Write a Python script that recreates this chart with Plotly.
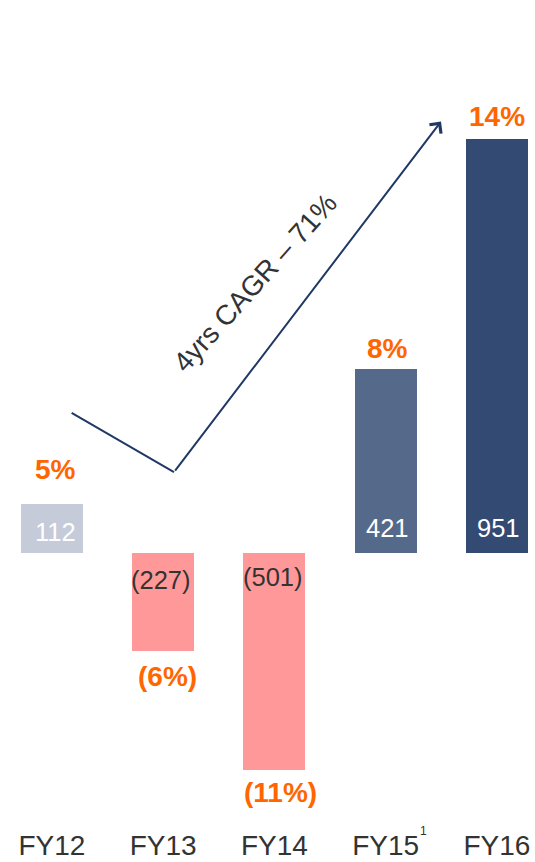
import plotly.graph_objects as go

categories = ["FY12", "FY13", "FY14", "FY15", "FY16"]
tick_labels = ["FY12", "FY13", "FY14", "FY15", "FY16"]
footnote_marks = ["", "", "", "1", ""]
values = [112, -227, -501, 421, 951]
value_labels = ["112", "(227)", "(501)", "421", "951"]
pct_labels = ["5%", "(6%)", "(11%)", "8%", "14%"]
bar_colors = ["#C5CBD8", "#FF9999", "#FF9999", "#556A8A", "#334A72"]
value_label_colors = ["#FFFFFF", "#333333", "#333333", "#FFFFFF", "#FFFFFF"]

# style offsets (px) for labels
pct_shift = [34, -25, -22, 21, 23]
pct_xshift = [4, 4, 6, 2, 0]
val_shift = [21, -27, -24, 25, 25]
val_xshift = [4, -2, -1, 2, 2]

FONT = "Liberation Sans, Arial, sans-serif"
ORANGE = "#FF6600"
NAVY = "#1F3864"

x_idx = list(range(len(categories)))

fig = go.Figure()
fig.add_trace(go.Bar(
    x=x_idx, y=values, width=0.557,
    marker=dict(color=bar_colors, line=dict(width=0)),
    hoverinfo="skip", showlegend=False,
))

annotations = []
for i, (v, vl, pl) in enumerate(zip(values, value_labels, pct_labels)):
    annotations.append(dict(
        x=i, y=0, xref="x", yref="y", text=vl, showarrow=False,
        xanchor="center", yanchor="middle", yshift=val_shift[i], xshift=val_xshift[i],
        font=dict(family=FONT, size=25.5, color=value_label_colors[i]),
    ))
    annotations.append(dict(
        x=i, y=v, xref="x", yref="y", text="<b>%s</b>" % pl, showarrow=False,
        xanchor="center", yanchor="middle", yshift=pct_shift[i], xshift=pct_xshift[i],
        font=dict(family=FONT, size=28, color=ORANGE),
    ))
    if footnote_marks[i]:
        annotations.append(dict(
            x=i, y=0, xref="x", yref="paper", text=footnote_marks[i], showarrow=False,
            xanchor="left", yanchor="middle", xshift=32, yshift=-11,
            font=dict(family=FONT, size=12, color="#333333"),
        ))

# CAGR arrow (annotation, in data coords)
arrow_start = (0.177, 321)
arrow_vertex = (1.097, 185)
arrow_tip = (3.497, 991)
annotations.append(dict(
    x=arrow_tip[0], y=arrow_tip[1], ax=arrow_vertex[0], ay=arrow_vertex[1],
    xref="x", yref="y", axref="x", ayref="y", text="", showarrow=True,
    arrowhead=4, arrowsize=1.4, arrowwidth=2, arrowcolor=NAVY, standoff=0, startstandoff=0,
))
annotations.append(dict(
    x=1.83, y=620, xref="x", yref="y", text="4yrs CAGR – 71%", showarrow=False,
    textangle=-48, xanchor="center", yanchor="middle",
    font=dict(family=FONT, size=28, color="#333333"),
))

fig.add_shape(type="line", xref="x", yref="y",
              x0=arrow_start[0], y0=arrow_start[1], x1=arrow_vertex[0], y1=arrow_vertex[1],
              line=dict(color=NAVY, width=2))

fig.update_layout(
    width=535, height=862,
    margin=dict(l=0, r=0, t=0, b=42),
    paper_bgcolor="white", plot_bgcolor="white",
    annotations=annotations,
    bargap=0,
    xaxis=dict(range=[-0.467, 4.342], tickmode="array", tickvals=x_idx, ticktext=tick_labels,
               showgrid=False, zeroline=False, showline=False, ticks="",
               ticklabelstandoff=6,
               tickfont=dict(family=FONT, size=28, color="#333333"), fixedrange=True),
    yaxis=dict(range=[-615.2, 1270.7], visible=False, showgrid=False, zeroline=False, fixedrange=True),
)

fig.write_html("out.html", config={"displayModeBar": False},
               post_script="document.body.style.margin='0';document.body.style.padding='0';")
